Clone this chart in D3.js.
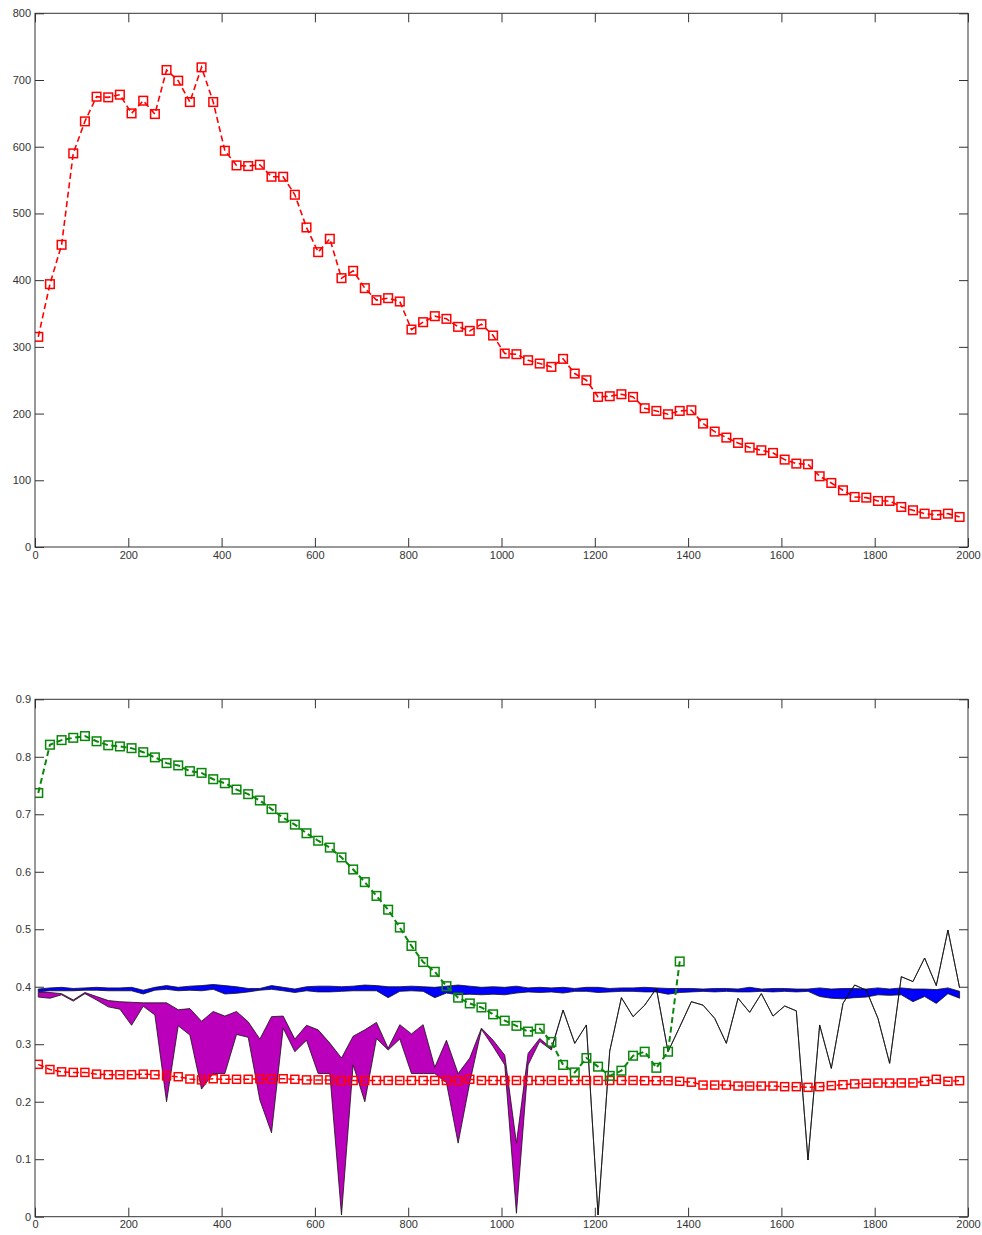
<!DOCTYPE html>
<html>
<head>
<meta charset="utf-8">
<script src="https://cdn.jsdelivr.net/npm/d3@7"></script>
<style>
  body { margin: 0; background: #fff; }
  svg text { font-family: Arial, "Liberation Sans", sans-serif; font-size: 11px; fill: #333; }
</style>
</head>
<body>
<svg id="chart" width="982" height="1235"></svg>
<script>
// Sample positions shared by every series
const sampleX = [7,32,57,82,107,132,157,182,207,232,257,282,307,332,357,382,407,432,457,482,
  507,532,557,582,607,632,657,682,707,732,757,782,807,832,857,882,907,932,957,982,
  1007,1032,1057,1082,1107,1132,1157,1182,1207,1232,1257,1282,1307,1332,1357,1382,1407,1432,1457,1482,
  1507,1532,1557,1582,1607,1632,1657,1682,1707,1732,1757,1782,1807,1832,1857,1882,1907,1932,1957,1982];

// Upper panel: counts
const countValues = [315,394,453,590,638,675,674,678,650,669,649,715,699,667,719,667,594,572,571,573,
  555,555,528,479,442,462,403,414,388,370,373,368,326,337,346,342,330,324,334,317,
  290,289,280,275,270,282,260,250,225,226,229,225,208,204,199,204,205,185,173,164,
  156,149,145,141,131,125,124,106,96,85,75,74,69,69,60,55,50,48,50,45];

// Lower panel: green ratio curve (first 56 samples)
const greenValues = [0.737,0.821,0.829,0.833,0.836,0.827,0.820,0.818,0.815,0.808,
  0.799,0.789,0.785,0.775,0.772,0.761,0.754,0.743,0.735,0.724,
  0.709,0.694,0.682,0.667,0.654,0.642,0.625,0.604,0.582,0.558,
  0.534,0.503,0.471,0.443,0.426,0.401,0.381,0.371,0.364,0.352,
  0.341,0.332,0.322,0.327,0.304,0.264,0.251,0.276,0.261,0.245,
  0.254,0.280,0.287,0.259,0.287,0.444];

// Lower panel: red ratio curve
const redValues = [0.265,0.256,0.252,0.251,0.251,0.248,0.247,0.247,0.247,0.248,
  0.247,0.245,0.2435,0.2395,0.238,0.240,0.239,0.239,0.239,0.240,
  0.240,0.240,0.239,0.238,0.238,0.238,0.237,0.237,0.237,0.237,
  0.237,0.237,0.237,0.237,0.237,0.237,0.237,0.239,0.237,0.237,
  0.237,0.237,0.237,0.237,0.237,0.237,0.237,0.237,0.237,0.237,
  0.237,0.237,0.2366,0.2366,0.2366,0.2355,0.234,0.229,0.229,0.229,
  0.2273,0.2273,0.2273,0.2273,0.2262,0.2262,0.225,0.2262,0.228,0.2296,
  0.231,0.232,0.2325,0.2325,0.2327,0.2327,0.2355,0.239,0.2355,0.2366];

// Lower panel: blue band (upper / lower edge)
const blueUpper = [0.396,0.398,0.399,0.397,0.398,0.399,0.398,0.398,0.399,0.394,
  0.399,0.402,0.399,0.401,0.402,0.404,0.402,0.400,0.397,0.397,
  0.402,0.399,0.396,0.400,0.401,0.401,0.400,0.401,0.403,0.402,
  0.400,0.400,0.401,0.400,0.399,0.401,0.403,0.401,0.399,0.400,
  0.399,0.401,0.398,0.399,0.398,0.399,0.397,0.399,0.399,0.397,
  0.398,0.398,0.399,0.398,0.397,0.397,0.397,0.396,0.397,0.397,
  0.396,0.399,0.396,0.397,0.397,0.396,0.396,0.398,0.396,0.397,
  0.397,0.396,0.398,0.396,0.398,0.396,0.396,0.395,0.398,0.392];
const blueLower = [0.391,0.393,0.393,0.393,0.394,0.394,0.393,0.393,0.393,0.3874,
  0.394,0.3955,0.393,0.394,0.393,0.3955,0.3874,0.3886,0.391,0.394,
  0.3955,0.393,0.390,0.393,0.391,0.391,0.392,0.393,0.393,0.393,
  0.381,0.392,0.393,0.392,0.381,0.389,0.386,0.387,0.386,0.387,
  0.386,0.389,0.391,0.390,0.391,0.389,0.392,0.392,0.390,0.391,
  0.392,0.392,0.391,0.391,0.387,0.390,0.391,0.392,0.391,0.392,
  0.391,0.391,0.392,0.391,0.392,0.391,0.392,0.383,0.380,0.379,
  0.381,0.382,0.386,0.385,0.386,0.374,0.383,0.371,0.388,0.380];

// Lower panel: magenta band (upper / lower edge); the edges meet from sample 45 on
const magentaUpper = [0.390,0.390,0.388,0.377,0.390,0.383,0.376,0.374,0.373,0.372,
  0.372,0.372,0.360,0.362,0.340,0.357,0.349,0.357,0.339,0.309,
  0.348,0.349,0.309,0.333,0.325,0.302,0.276,0.314,0.325,0.338,
  0.293,0.334,0.318,0.334,0.260,0.307,0.249,0.276,0.328,0.307,
  0.281,0.128,0.284,0.310,0.293,0.3595,0.3016,0.3335,0.003,0.288,
  0.381,0.348,0.368,0.397,0.287,0.330,0.374,0.368,0.345,0.3016,
  0.380,0.3555,0.388,0.349,0.3665,0.358,0.0986,0.3335,0.258,0.371,
  0.403,0.394,0.345,0.2668,0.4175,0.409,0.450,0.402,0.4986,0.398];
const magentaLower = [0.382,0.380,0.386,0.375,0.388,0.377,0.365,0.361,0.333,0.366,
  0.351,0.200,0.332,0.316,0.222,0.249,0.249,0.317,0.312,0.203,
  0.146,0.328,0.287,0.307,0.249,0.249,0.003,0.264,0.200,0.310,
  0.290,0.309,0.249,0.249,0.249,0.233,0.128,0.233,0.326,0.296,
  0.264,0.006,0.264,0.305,0.290,0.3595,0.3016,0.3335,0.003,0.288,
  0.381,0.348,0.368,0.397,0.287,0.330,0.374,0.368,0.345,0.3016,
  0.380,0.3555,0.388,0.349,0.3665,0.358,0.0986,0.3335,0.258,0.371,
  0.403,0.394,0.345,0.2668,0.4175,0.409,0.450,0.402,0.4986,0.398];

const xTicks = [0,200,400,600,800,1000,1200,1400,1600,1800,2000];
const countTicks = [0,100,200,300,400,500,600,700,800];
const ratioTicks = [0,0.1,0.2,0.3,0.4,0.5,0.6,0.7,0.8,0.9];

const svg = d3.select("#chart");
const AXIS = "#333";

function makePanel(id, box, yDomain, yTickValues, yFormat) {
  const x = d3.scaleLinear().domain([0, 2000]).range([box.left, box.right]);
  const y = d3.scaleLinear().domain(yDomain).range([box.bottom, box.top]);
  const g = svg.append("g").attr("id", id);

  g.append("clipPath").attr("id", id + "-clip")
    .append("rect")
    .attr("x", box.left).attr("y", box.top)
    .attr("width", box.right - box.left).attr("height", box.bottom - box.top);

  const plot = g.append("g").attr("clip-path", `url(#${id}-clip)`);
  const axes = g.append("g");

  // inward ticks on all four sides
  const bottomAxis = d3.axisBottom(x).tickValues(xTicks).tickSize(-9).tickPadding(4).tickFormat(d3.format("d"));
  const topAxis = d3.axisTop(x).tickValues(xTicks).tickSize(-9).tickFormat("");
  const leftAxis = d3.axisLeft(y).tickValues(yTickValues).tickSize(-9).tickPadding(4).tickFormat(yFormat);
  const rightAxis = d3.axisRight(y).tickValues(yTickValues).tickSize(-9).tickFormat("");

  const addAxis = (gen, tx, ty) => {
    const a = axes.append("g").attr("transform", `translate(${tx},${ty})`).call(gen);
    a.select(".domain").remove();
    a.selectAll(".tick line").attr("stroke", AXIS).attr("stroke-width", 1);
    a.selectAll(".tick text").attr("fill", AXIS).style("font-size", "11px")
      .style("font-family", "Arial, 'Liberation Sans', sans-serif");
    return a;
  };
  addAxis(bottomAxis, 0, box.bottom);
  addAxis(topAxis, 0, box.top);
  addAxis(leftAxis, box.left, 0);
  addAxis(rightAxis, box.right, 0);

  axes.append("rect")
    .attr("x", box.left).attr("y", box.top)
    .attr("width", box.right - box.left).attr("height", box.bottom - box.top)
    .attr("fill", "none").attr("stroke", AXIS).attr("stroke-width", 1);

  return { x, y, plot, axes };
}

function drawMarkerLine(p, values, color, opts) {
  const pts = values.map((v, i) => [sampleX[i], v]);
  const line = d3.line().x(d => p.x(d[0])).y(d => p.y(d[1]));
  p.plot.append("path")
    .datum(pts)
    .attr("d", line)
    .attr("fill", "none")
    .attr("stroke", color)
    .attr("stroke-width", opts.width)
    .attr("stroke-dasharray", opts.dash);
  const s = opts.size;
  p.plot.append("g").selectAll("rect")
    .data(pts)
    .join("rect")
    .attr("x", d => p.x(d[0]) - s / 2)
    .attr("y", d => p.y(d[1]) - s / 2)
    .attr("width", s).attr("height", s)
    .attr("fill", "none")
    .attr("stroke", color)
    .attr("stroke-width", opts.markerWidth);
}

function drawBand(p, upper, lower, fill) {
  const pts = upper.map((v, i) => ({ x: sampleX[i], hi: v, lo: lower[i] }));
  const area = d3.area().x(d => p.x(d.x)).y0(d => p.y(d.lo)).y1(d => p.y(d.hi));
  p.plot.append("path")
    .datum(pts)
    .attr("d", area)
    .attr("fill", fill)
    .attr("stroke", "#111")
    .attr("stroke-width", 0.8)
    .attr("stroke-linejoin", "miter");
}

// ---- upper panel ----
const countPanel = makePanel("counts", { left: 35, right: 968, top: 13.3, bottom: 547 },
  [0, 800], countTicks, d3.format("d"));
drawMarkerLine(countPanel, countValues, "#ff0000", { width: 1.6, dash: "6,3.5", size: 8.6, markerWidth: 1.5 });

// ---- lower panel ----
const ratioPanel = makePanel("ratios", { left: 35, right: 968, top: 699.3, bottom: 1216.7 },
  [0, 0.9], ratioTicks, d => (+d.toFixed(1)).toString());
drawBand(ratioPanel, blueUpper, blueLower, "#0000ff");
drawBand(ratioPanel, magentaUpper, magentaLower, "#bb00bb");
drawMarkerLine(ratioPanel, redValues, "#ff0000", { width: 1.5, dash: "6,3", size: 8, markerWidth: 1.5 });
drawMarkerLine(ratioPanel, greenValues, "#0a870a", { width: 2, dash: "6,3.5", size: 8.6, markerWidth: 1.5 });
</script>
</body>
</html>
